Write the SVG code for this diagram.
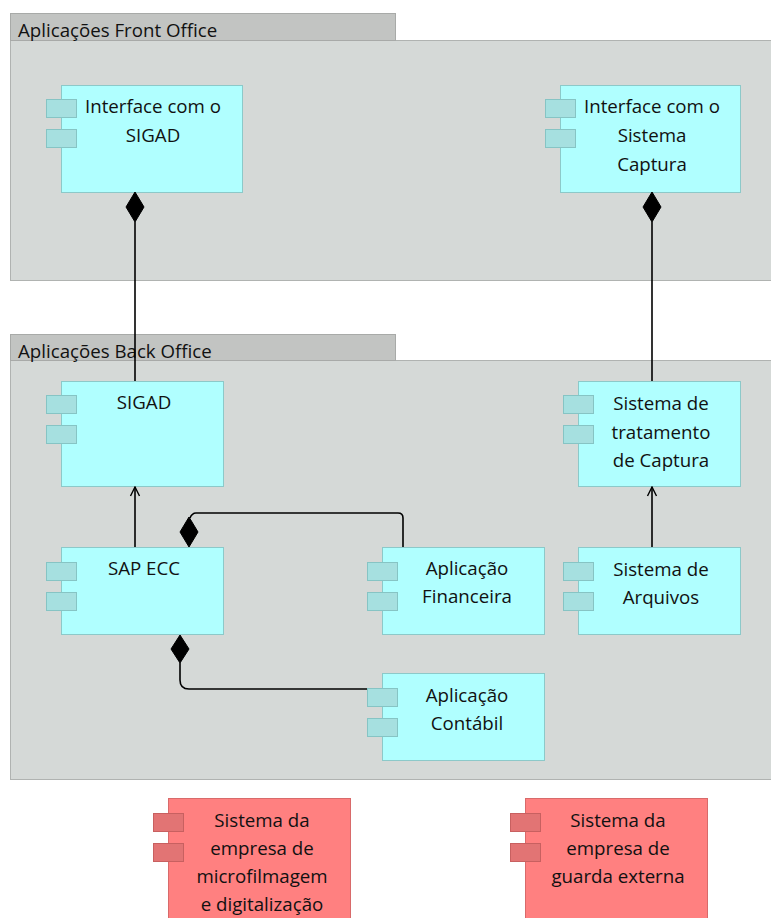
<svg xmlns="http://www.w3.org/2000/svg" width="771" height="918" viewBox="0 0 771 918">
  <style>
    .tab { fill: #c2c4c2; stroke: #a8aaa8; stroke-width: 1; }
    .body { fill: #d5d9d7; stroke: #b0b3b1; stroke-width: 1; }
    .glabel { font-family: "Open Sans", "Noto Sans", sans-serif; font-size: 18.7px; fill: #111; }
    .comp { fill: #b0ffff; stroke: #8cc9c9; stroke-width: 1; }
    .port { fill: #a6e0e0; stroke: #86c4c4; stroke-width: 1; }
    .ext { fill: #ff8080; stroke: #d86a6a; stroke-width: 1; }
    .eport { fill: #e27474; stroke: #c86060; stroke-width: 1; }
    .lbl { font-family: "Open Sans", "Noto Sans", sans-serif; font-size: 18.7px; fill: #111; text-anchor: middle; }
    .edge { fill: none; stroke: #000; stroke-width: 1.6; }
    .dia { fill: #000; stroke: #000; stroke-width: 1; }
  </style>
  <defs>
    <marker id="open" viewBox="0 0 12 12" refX="11" refY="6" markerWidth="12" markerHeight="12" markerUnits="userSpaceOnUse" orient="auto">
      <path d="M2,1.5 L11,6 L2,10.5" fill="none" stroke="#000" stroke-width="1.4"/>
    </marker>
  </defs>
  <rect width="771" height="918" fill="#ffffff"/>

  <!-- Front office container -->
  <g id="front-office">
    <rect class="body" x="10.5" y="40.5" width="770" height="240"/>
    <rect class="tab" x="10.5" y="13.5" width="385" height="27"/>
    <text class="glabel" x="18" y="37">Aplicações Front Office</text>
  </g>

  <!-- Back office container -->
  <g id="back-office">
    <rect class="body" x="10.5" y="360.5" width="770" height="419"/>
    <rect class="tab" x="10.5" y="334.5" width="385" height="26"/>
    <text class="glabel" x="18" y="358">Aplicações Back Office</text>
  </g>

  <g id="if-sigad">
    <rect class="comp" x="61.5" y="85.5" width="181" height="107"/>
    <rect class="port" x="46.5" y="99.5" width="30" height="18"/>
    <rect class="port" x="46.5" y="129.5" width="30" height="18"/>
    <text class="lbl" x="153" y="113">Interface com o</text>
    <text class="lbl" x="153" y="142">SIGAD</text>
  </g>

  <g id="if-captura">
    <rect class="comp" x="560.5" y="85.5" width="180" height="107"/>
    <rect class="port" x="545.5" y="99.5" width="30" height="18"/>
    <rect class="port" x="545.5" y="129.5" width="30" height="18"/>
    <text class="lbl" x="652" y="113">Interface com o</text>
    <text class="lbl" x="652" y="142">Sistema</text>
    <text class="lbl" x="652" y="171">Captura</text>
  </g>

  <g id="sigad">
    <rect class="comp" x="61.5" y="381.5" width="162" height="105"/>
    <rect class="port" x="46.5" y="395.5" width="30" height="18"/>
    <rect class="port" x="46.5" y="425.5" width="30" height="18"/>
    <text class="lbl" x="144" y="409">SIGAD</text>
  </g>

  <g id="sap-ecc">
    <rect class="comp" x="61.5" y="547.5" width="162" height="87"/>
    <rect class="port" x="46.5" y="562.5" width="30" height="18"/>
    <rect class="port" x="46.5" y="592.5" width="30" height="18"/>
    <text class="lbl" x="144" y="575">SAP ECC</text>
  </g>

  <g id="app-financeira">
    <rect class="comp" x="382.5" y="547.5" width="162" height="87"/>
    <rect class="port" x="367.5" y="562.5" width="30" height="18"/>
    <rect class="port" x="367.5" y="592.5" width="30" height="18"/>
    <text class="lbl" x="467" y="575">Aplicação</text>
    <text class="lbl" x="467" y="603">Financeira</text>
  </g>

  <g id="app-contabil">
    <rect class="comp" x="382.5" y="673.5" width="162" height="87"/>
    <rect class="port" x="367.5" y="688.5" width="30" height="18"/>
    <rect class="port" x="367.5" y="718.5" width="30" height="18"/>
    <text class="lbl" x="467" y="702">Aplicação</text>
    <text class="lbl" x="467" y="730">Contábil</text>
  </g>

  <g id="tratamento-captura">
    <rect class="comp" x="578.5" y="381.5" width="162" height="105"/>
    <rect class="port" x="563.5" y="395.5" width="30" height="18"/>
    <rect class="port" x="563.5" y="425.5" width="30" height="18"/>
    <text class="lbl" x="661" y="410">Sistema de</text>
    <text class="lbl" x="661" y="439">tratamento</text>
    <text class="lbl" x="661" y="467">de Captura</text>
  </g>

  <g id="sistema-arquivos">
    <rect class="comp" x="578.5" y="547.5" width="162" height="87"/>
    <rect class="port" x="563.5" y="562.5" width="30" height="18"/>
    <rect class="port" x="563.5" y="592.5" width="30" height="18"/>
    <text class="lbl" x="661" y="576">Sistema de</text>
    <text class="lbl" x="661" y="604">Arquivos</text>
  </g>

  <g id="microfilmagem">
    <rect class="ext" x="168.5" y="798.5" width="182" height="130"/>
    <rect class="eport" x="153.5" y="813.5" width="30" height="18"/>
    <rect class="eport" x="153.5" y="843.5" width="30" height="18"/>
    <text class="lbl" x="262" y="827">Sistema da</text>
    <text class="lbl" x="262" y="855">empresa de</text>
    <text class="lbl" x="262" y="883">microfilmagem</text>
    <text class="lbl" x="262" y="911">e digitalização</text>
  </g>

  <g id="guarda-externa">
    <rect class="ext" x="525.5" y="798.5" width="182" height="130"/>
    <rect class="eport" x="510.5" y="813.5" width="30" height="18"/>
    <rect class="eport" x="510.5" y="843.5" width="30" height="18"/>
    <text class="lbl" x="618" y="827">Sistema da</text>
    <text class="lbl" x="618" y="855">empresa de</text>
    <text class="lbl" x="618" y="883">guarda externa</text>
  </g>

  <!-- Connectors -->
  <g id="connectors">
    <!-- SIGAD composes into its front-office interface -->
    <path class="edge" d="M135,381 L135,222"/>
    <path class="dia" d="M135,192 L144,207 L135,222 L126,207 Z"/>
    <!-- capture processing composes into its front-office interface -->
    <path class="edge" d="M652,381 L652,222"/>
    <path class="dia" d="M652,192 L661,207 L652,222 L643,207 Z"/>
    <!-- SAP ECC uses SIGAD -->
    <path class="edge" d="M135,547 L135,487" marker-end="url(#open)"/>
    <!-- file system feeds capture processing -->
    <path class="edge" d="M652,547 L652,487" marker-end="url(#open)"/>
    <!-- finance app aggregated into SAP ECC -->
    <path class="edge" d="M403,547 L403,518 Q403,513 398,513 L196,513 Q192,513 190,518"/>
    <path class="dia" d="M189,517 L198,532 L189,547 L180,532 Z"/>
    <!-- accounting app aggregated into SAP ECC -->
    <path class="edge" d="M180,663 L180,680 Q180,689 189,689 L367,689"/>
    <path class="dia" d="M180,635 L189,649 L180,663 L171,649 Z"/>
  </g>
</svg>
